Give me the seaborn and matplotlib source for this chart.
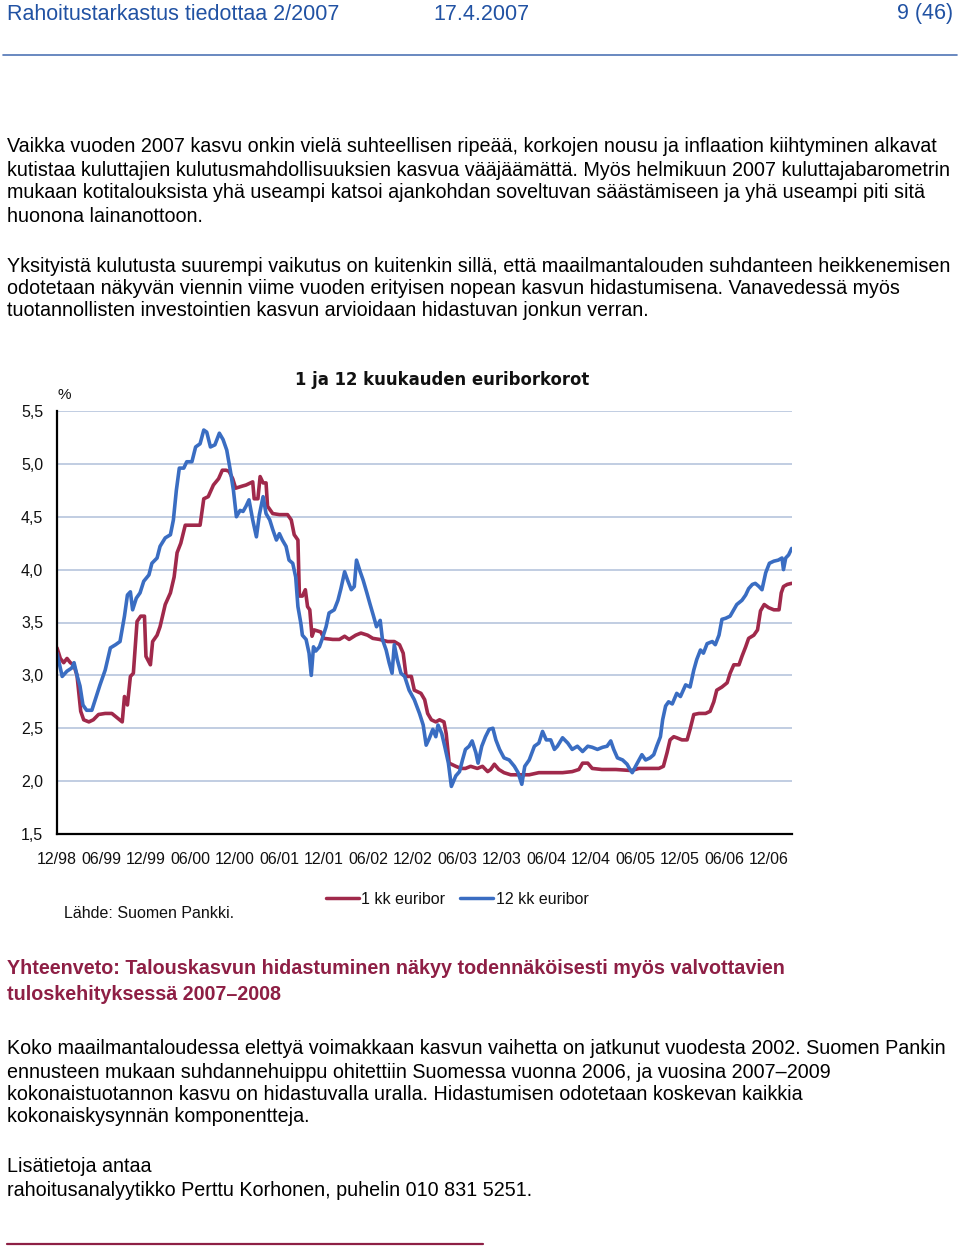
import numpy as np
import pandas as pd
import matplotlib
matplotlib.use("Agg")
import matplotlib.pyplot as plt
from matplotlib.lines import Line2D
import seaborn as sns

# ---------------- data ----------------
series_names = ["1 kk euribor", "12 kk euribor"]
x_tick_labels = ["12/98", "06/99", "12/99", "06/00", "12/00", "06/01", "12/01", "06/02",
                 "12/02", "06/03", "12/03", "06/04", "12/04", "06/05", "12/05", "06/06", "12/06"]
y_ticks = [1.5, 2.0, 2.5, 3.0, 3.5, 4.0, 4.5, 5.0, 5.5]
y_tick_labels = ["1,5", "2,0", "2,5", "3,0", "3,5", "4,0", "4,5", "5,0", "5,5"]

# months after the 12/98 tick
months_1kk = [0, 0.45, 0.9, 1.35, 1.8, 2.25, 2.7, 3.2, 3.6, 4.3, 4.9, 5.6, 6.5, 7.4, 8.1, 8.8, 9.1, 9.5,
              9.9, 10.3, 10.8, 11.3, 11.8, 12.0, 12.6, 12.9, 13.5, 13.9, 14.6, 15.3, 15.8, 16.2, 16.7,
              17.3, 17.9, 19.3, 19.8, 20.4, 21.1, 21.8, 22.3, 22.8, 23.2, 23.7, 24.1, 25.0, 25.5, 26.4,
              26.6, 27.1, 27.4, 27.8, 28.2, 28.4, 29.1, 30.0, 31.1, 31.6, 32.0, 32.5, 32.7, 33.1, 33.5,
              33.8, 34.1, 34.4, 34.7, 35.6, 36.0, 37.2, 38.1, 38.8, 39.4, 40.3, 41.0, 41.9, 42.6, 43.5,
              44.6, 45.5, 46.2, 46.7, 47.1, 47.8, 48.2, 49.1, 49.6, 50.0, 50.5, 51.1, 51.6, 52.2, 52.5,
              52.9, 53.8, 54.5, 55.1, 55.8, 56.7, 57.4, 58.1, 58.5, 59.0, 59.6, 60.3, 61.2, 62.6, 63.7,
              65.0, 66.8, 68.2, 69.5, 70.4, 70.9, 71.6, 72.2, 73.5, 75.4, 77.5, 78.5, 79.8, 81.2, 81.8,
              82.3, 82.7, 83.2, 83.6, 84.3, 85.0, 85.4, 85.9, 86.6, 87.5, 88.1, 88.6, 89.0, 89.7, 90.4,
              90.8, 91.3, 92.0, 92.4, 92.9, 93.3, 94.0, 94.5, 94.9, 95.4, 96.0, 96.7, 97.4, 97.7, 98.0,
              98.5, 99.1]
euribor_1kk = [3.26, 3.16, 3.12, 3.16, 3.12, 3.10, 3.00, 2.66, 2.58, 2.56, 2.58, 2.63, 2.64, 2.64, 2.60,
               2.56, 2.80, 2.72, 2.99, 3.02, 3.51, 3.56, 3.56, 3.18, 3.10, 3.32, 3.38, 3.46, 3.67, 3.78,
               3.93, 4.16, 4.25, 4.42, 4.42, 4.42, 4.67, 4.69, 4.80, 4.86, 4.94, 4.94, 4.93, 4.86, 4.77,
               4.79, 4.80, 4.83, 4.67, 4.67, 4.88, 4.82, 4.82, 4.60, 4.53, 4.52, 4.52, 4.47, 4.33, 4.28,
               3.75, 3.75, 3.81, 3.65, 3.62, 3.37, 3.43, 3.41, 3.35, 3.34, 3.34, 3.37, 3.34, 3.38, 3.40,
               3.38, 3.35, 3.34, 3.32, 3.32, 3.29, 3.21, 2.99, 2.99, 2.86, 2.83, 2.77, 2.64, 2.58, 2.56,
               2.58, 2.56, 2.45, 2.17, 2.14, 2.12, 2.12, 2.14, 2.12, 2.14, 2.09, 2.11, 2.16, 2.11, 2.08,
               2.06, 2.06, 2.06, 2.08, 2.08, 2.08, 2.09, 2.11, 2.17, 2.17, 2.12, 2.11, 2.11, 2.10, 2.12,
               2.12, 2.12, 2.14, 2.27, 2.39, 2.42, 2.41, 2.39, 2.39, 2.49, 2.63, 2.64, 2.64, 2.66, 2.75,
               2.86, 2.89, 2.93, 3.02, 3.10, 3.10, 3.18, 3.27, 3.35, 3.38, 3.43, 3.61, 3.67, 3.64, 3.62,
               3.62, 3.78, 3.84, 3.86, 3.87]

months_12kk = [0, 0.7, 1.35, 2.0, 2.3, 2.7, 3.1, 3.5, 4.0, 4.7, 5.2, 5.8, 6.5, 7.2, 7.9, 8.5, 9.1, 9.5,
               9.9, 10.2, 10.7, 11.2, 11.7, 12.4, 12.8, 13.5, 13.9, 14.6, 15.3, 15.7, 16.1, 16.5, 17.1,
               17.5, 18.2, 18.7, 19.3, 19.8, 20.2, 20.7, 21.3, 21.9, 22.4, 22.9, 23.4, 23.8, 24.2, 24.7,
               25.1, 25.5, 25.9, 26.4, 26.9, 27.3, 27.8, 28.2, 28.7, 29.1, 29.6, 30.0, 30.4, 30.9, 31.3,
               31.8, 32.2, 32.5, 32.9, 33.1, 33.6, 34.0, 34.3, 34.6, 34.9, 35.4, 35.8, 36.3, 36.7, 37.4,
               37.9, 38.3, 38.8, 39.2, 39.7, 40.1, 40.4, 40.9, 41.3, 41.8, 42.2, 42.7, 43.1, 43.6, 43.9,
               44.4, 44.8, 45.2, 45.5, 45.9, 46.4, 46.9, 47.5, 48.2, 48.9, 49.4, 49.8, 50.2, 50.7, 51.1,
               51.4, 51.9, 52.3, 52.8, 53.2, 53.8, 54.3, 54.7, 55.1, 55.6, 56.0, 56.5, 56.8, 57.3, 57.8,
               58.3, 58.8, 59.2, 59.7, 60.3, 61.0, 61.7, 62.2, 62.7, 63.1, 63.7, 64.4, 65.0, 65.5, 66.0,
               66.6, 67.1, 67.5, 68.2, 68.9, 69.5, 70.2, 70.9, 71.6, 72.2, 72.9, 73.6, 74.2, 74.7, 75.1,
               75.6, 76.3, 76.9, 77.3, 77.6, 78.2, 78.9, 79.4, 80.0, 80.5, 80.9, 81.4, 81.7, 82.1, 82.5,
               83.0, 83.6, 84.1, 84.8, 85.4, 85.9, 86.3, 86.8, 87.2, 87.7, 88.4, 88.8, 89.3, 89.7, 90.2,
               90.8, 91.3, 91.7, 92.4, 92.9, 93.3, 93.8, 94.2, 94.7, 95.1, 95.6, 96.1, 96.7, 97.3, 97.8,
               98.0, 98.3, 98.7, 99.1]
euribor_12kk = [3.21, 2.99, 3.04, 3.07, 3.12, 3.00, 2.90, 2.72, 2.67, 2.67, 2.78, 2.91, 3.05, 3.26, 3.29,
                3.32, 3.56, 3.76, 3.79, 3.62, 3.73, 3.78, 3.89, 3.95, 4.06, 4.11, 4.22, 4.30, 4.33, 4.47,
                4.75, 4.96, 4.96, 5.02, 5.02, 5.16, 5.19, 5.32, 5.30, 5.16, 5.18, 5.29, 5.23, 5.13, 4.93,
                4.75, 4.50, 4.56, 4.55, 4.60, 4.66, 4.47, 4.31, 4.52, 4.69, 4.53, 4.47, 4.38, 4.28, 4.34,
                4.28, 4.22, 4.09, 4.06, 3.93, 3.65, 3.49, 3.38, 3.34, 3.21, 3.00, 3.27, 3.23, 3.27, 3.35,
                3.46, 3.59, 3.62, 3.71, 3.82, 3.98, 3.90, 3.81, 3.84, 4.09, 3.98, 3.90, 3.78, 3.68, 3.56,
                3.46, 3.52, 3.34, 3.24, 3.12, 3.02, 3.29, 3.15, 3.02, 2.99, 2.86, 2.77, 2.64, 2.53, 2.34,
                2.40, 2.49, 2.42, 2.53, 2.45, 2.33, 2.17, 1.95, 2.05, 2.09, 2.20, 2.30, 2.33, 2.38, 2.27,
                2.17, 2.33, 2.42, 2.49, 2.50, 2.39, 2.30, 2.22, 2.20, 2.14, 2.08, 1.97, 2.14, 2.20, 2.33,
                2.36, 2.47, 2.39, 2.39, 2.30, 2.33, 2.41, 2.36, 2.30, 2.33, 2.28, 2.33, 2.32, 2.30, 2.32,
                2.33, 2.38, 2.30, 2.22, 2.20, 2.16, 2.11, 2.08, 2.16, 2.25, 2.20, 2.22, 2.25, 2.33, 2.42,
                2.58, 2.71, 2.75, 2.73, 2.83, 2.80, 2.91, 2.89, 3.05, 3.15, 3.24, 3.21, 3.30, 3.32, 3.29,
                3.38, 3.53, 3.54, 3.56, 3.62, 3.67, 3.71, 3.76, 3.82, 3.86, 3.87, 3.84, 3.81, 3.97, 4.06,
                4.08, 4.09, 4.11, 4.00, 4.11, 4.14, 4.20]

# ---------------- style ----------------
RED = "#A0294B"
BLUE = "#3A6DC2"
GRID = "#BCC9DF"
HEAD_BLUE = "#2152A3"
MAROON = "#8E1F45"

sns.set_theme(style="white")
plt.rcParams["font.family"] = ["Liberation Sans", "DejaVu Sans"]

W, H = 960, 1247
fig = plt.figure(figsize=(W / 100, H / 100), dpi=100)
fig.patch.set_facecolor("white")


def fx(px):
    return px / W


def fy(py):
    return 1 - py / H


# ---------------- chart ----------------
ax = fig.add_axes([fx(57), fy(834), fx(792) - fx(57), fy(411) - fy(834)])
df = pd.concat([
    pd.DataFrame({"kk": months_1kk, "korko": euribor_1kk, "sarja": series_names[0]}),
    pd.DataFrame({"kk": months_12kk, "korko": euribor_12kk, "sarja": series_names[1]}),
], ignore_index=True)
sns.lineplot(data=df, x="kk", y="korko", hue="sarja", palette=[RED, BLUE],
             estimator=None, sort=False, linewidth=2.6, ax=ax, legend=False)

ax.set_xlim(0, 99.15)
ax.set_ylim(y_ticks[0], y_ticks[-1])
ax.set_yticks(y_ticks)
ax.set_yticklabels(y_tick_labels)
ax.set_xticks([6 * i for i in range(len(x_tick_labels))])
ax.set_xticklabels(x_tick_labels)
ax.set_xlabel("")
ax.set_ylabel("")
ax.yaxis.grid(True, color=GRID, linewidth=1.3)
ax.xaxis.grid(False)
ax.set_axisbelow(True)
for s in ["top", "right"]:
    ax.spines[s].set_visible(False)
for s in ["left", "bottom"]:
    ax.spines[s].set_color("black")
    ax.spines[s].set_linewidth(1.6)
ax.tick_params(axis="both", direction="out", length=5, width=1.3, color="black",
               labelsize=11.5, labelcolor="#111111")
ax.tick_params(axis="y", pad=5)
ax.tick_params(axis="x", pad=8)
ax.set_facecolor("white")

fig.text(fx(58), fy(395), "%", fontsize=11, va="center", ha="left", color="#111111")
fig.text(fx(442), fy(380), "1 ja 12 kuukauden euriborkorot", fontsize=11.9, fontweight="bold",
         family="DejaVu Sans", ha="center", va="center", color="#111111")

handles = [Line2D([], [], color=RED, lw=2.5), Line2D([], [], color=BLUE, lw=2.5)]
fig.legend(handles, series_names, loc="center", bbox_to_anchor=(fx(457), fy(899)),
           ncol=2, frameon=False, fontsize=11.5, handlelength=2.1, handletextpad=0.15,
           columnspacing=0.9, labelcolor="#111111")
fig.text(fx(64), fy(913), "Lähde: Suomen Pankki.", fontsize=11.5, va="center", ha="left",
         color="#111111")

# ---------------- page text ----------------
HS = 15.5
fig.text(fx(7), fy(14), "Rahoitustarkastus tiedottaa 2/2007", fontsize=HS, color=HEAD_BLUE,
         va="center", ha="left")
fig.text(fx(433), fy(14), "17.4.2007", fontsize=HS, color=HEAD_BLUE, va="center", ha="left")
fig.text(fx(953), fy(14), "9 (46)", fontsize=HS, color=HEAD_BLUE, va="center", ha="right")
fig.add_artist(Line2D([fx(3), fx(957)], [fy(55), fy(55)], color="#4F74B5", lw=1.2))

BS = 14.2
body = [
    (147, "Vaikka vuoden 2007 kasvu onkin vielä suhteellisen ripeää, korkojen nousu ja inflaation kiihtyminen alkavat"),
    (170, "kutistaa kuluttajien kulutusmahdollisuuksien kasvua vääjäämättä. Myös helmikuun 2007 kuluttajabarometrin"),
    (193, "mukaan kotitalouksista yhä useampi katsoi ajankohdan soveltuvan säästämiseen ja yhä useampi piti sitä"),
    (216, "huonona lainanottoon."),
    (266, "Yksityistä kulutusta suurempi vaikutus on kuitenkin sillä, että maailmantalouden suhdanteen heikkenemisen"),
    (289, "odotetaan näkyvän viennin viime vuoden erityisen nopean kasvun hidastumisena. Vanavedessä myös"),
    (311, "tuotannollisten investointien kasvun arvioidaan hidastuvan jonkun verran."),
    (1049, "Koko maailmantaloudessa elettyä voimakkaan kasvun vaihetta on jatkunut vuodesta 2002. Suomen Pankin"),
    (1072, "ennusteen mukaan suhdannehuippu ohitettiin Suomessa vuonna 2006, ja vuosina 2007–2009"),
    (1094, "kokonaistuotannon kasvu on hidastuvalla uralla. Hidastumisen odotetaan koskevan kaikkia"),
    (1117, "kokonaiskysynnän komponentteja."),
    (1167, "Lisätietoja antaa"),
    (1190, "rahoitusanalyytikko Perttu Korhonen, puhelin 010 831 5251."),
]
for y, t in body:
    fig.text(fx(7), fy(y), t, fontsize=BS, color="black", va="center", ha="left")

for y, t in [(969, "Yhteenveto: Talouskasvun hidastuminen näkyy todennäköisesti myös valvottavien"),
             (995, "tuloskehityksessä 2007–2008")]:
    fig.text(fx(7), fy(y), t, fontsize=BS, color=MAROON, fontweight="bold", va="center", ha="left")

fig.add_artist(Line2D([fx(7), fx(483)], [fy(1244), fy(1244)], color=MAROON, lw=1.6))

fig.savefig("out.png", dpi=100, facecolor="white")
